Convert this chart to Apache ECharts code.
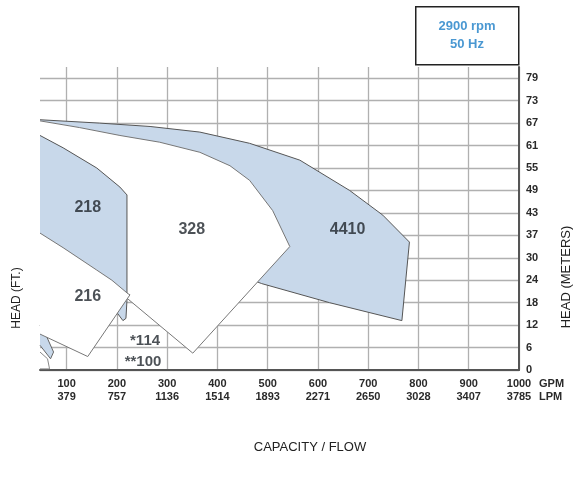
<!DOCTYPE html>
<html><head><meta charset="utf-8">
<script src="https://cdn.jsdelivr.net/npm/echarts@6/dist/echarts.min.js"></script>
<style>html,body{margin:0;padding:0;background:#fff}#c{width:579px;height:486px}</style>
</head><body><div id="c"></div>
<script>
// Axis ticks
const gpmTicks = [100, 200, 300, 400, 500, 600, 700, 800, 900, 1000];
const lpmLabels = ['379', '757', '1136', '1514', '1893', '2271', '2650', '3028', '3407', '3785'];
const feetTicks = [0, 20, 40, 60, 80, 100, 120, 140, 160, 180, 200, 220, 240, 260];
const meterLabels = ['0', '6', '12', '18', '24', '30', '37', '43', '49', '55', '61', '67', '73', '79'];

// Pump curve regions: [GPM, head ft] (start and end on the left edge of the chart)
const curve4410 = [[47,223],[166,220],[266,217],[365,212],[464,202],[564,187],[663,160],[729,138],[782,114],[767,44],[623,60],[488,77],[365,98],[226,120],[166,130],[47,150]];
const curve328 = [[47,222],[126,216],[206,209],[285,203],[365,194],[425,182],[464,169],[510,142],[544,110],[351,15],[220,64],[186,71],[47,98]];
const curve218 = [[47,209],[93,198],[160,180],[206,163],[220,156],[220,62],[218,46],[212,44],[202,50],[166,71],[47,107]];
const curve216 = [[47,122],[93,109],[160,89],[190,80],[222,68],[226,67],[142,12],[47,32]];
const curve114 = [[47,40],[60,30],[74,16],[68,10],[47,22]];
const curve100 = [[47,16],[62,10],[66,1],[47,1]];

// Region labels
const regionLabels = ['218', '216', '328', '4410', '*114', '**100'];
const labelAnchors = [[142,145],[142,65],[349,125],[659,125],[256,26],[252,7]];

const BLUE = '#c8d8ea';
function poly(points, fill, stroke) {
  return {
    type: 'custom', coordinateSystem: 'cartesian2d', silent: true,
    data: points, encode: { x: 0, y: 1 },
    renderItem: function (params, api) {
      if (params.dataIndex !== 0) return;
      const pts = points.map(p => api.coord(p));
      return { type: 'group', children: [
        { type: 'polygon', shape: { points: pts }, style: { fill: fill, stroke: null } },
        { type: 'polyline', shape: { points: pts }, style: { fill: null, stroke: stroke, lineWidth: 1 } }
      ] };
    }
  };
}

const chart = echarts.init(document.getElementById('c'));
chart.setOption({
  animation: false,
  grid: { left: 40, right: 60, top: 67, bottom: 116 },
  xAxis: {
    type: 'value', min: 47, max: 1000,
    axisLine: { show: true, lineStyle: { color: '#555', width: 2 } },
    axisTick: { show: false, customValues: gpmTicks },
    splitLine: { show: true, lineStyle: { color: '#b0b0b0', width: 1.3 } },
    axisLabel: { customValues: gpmTicks, margin: 7, fontSize: 11, fontWeight: 'bold', color: '#2a2a2a',
      fontFamily: 'Liberation Sans', lineHeight: 13,
      formatter: v => v + '\n' + lpmLabels[gpmTicks.indexOf(v)] },
    name: 'GPM\nLPM', nameLocation: 'end', nameGap: 20,
    nameTextStyle: { fontSize: 11, fontWeight: 'bold', color: '#2a2a2a', fontFamily: 'Liberation Sans',
      lineHeight: 13, verticalAlign: 'top', align: 'left', padding: [7, 0, 0, 0] }
  },
  yAxis: {
    type: 'value', position: 'right', min: 0, max: 270,
    axisLine: { show: true, lineStyle: { color: '#555', width: 2 } },
    axisTick: { show: false, customValues: feetTicks },
    splitLine: { show: true, lineStyle: { color: '#b0b0b0', width: 1.3 } },
    axisLabel: { customValues: feetTicks, margin: 7, fontSize: 11, fontWeight: 'bold', color: '#2a2a2a',
      fontFamily: 'Liberation Sans',
      formatter: v => meterLabels[feetTicks.indexOf(v)] }
  },
  series: [
    poly(curve4410, BLUE, '#555'),
    poly(curve328, '#fff', '#777'),
    poly(curve218, BLUE, '#555'),
    poly(curve114, BLUE, '#666'),
    poly(curve216, '#fff', '#777'),
    poly(curve100, '#fff', '#888'),
    {
      type: 'scatter', symbolSize: 0, silent: true,
      data: labelAnchors.map((p, i) => ({ value: p, name: regionLabels[i],
        label: { fontSize: i >= 4 ? 15 : 16 } })),
      label: { show: true, position: 'inside', formatter: p => p.name,
        fontFamily: 'Liberation Sans', fontWeight: 'bold', fontSize: 16, color: '#1f252c' },
      z: 10
    }
  ],
  graphic: [
    { type: 'rect', left: 415, top: 6, shape: { width: 103, height: 58 },
      style: { fill: '#fff', stroke: '#222', lineWidth: 1.5 } },
    { type: 'text', x: 467, y: 26, style: { text: '2900 rpm', fill: '#4a98d2', font: 'bold 13px "Liberation Sans"', align: 'center', verticalAlign: 'middle' } },
    { type: 'text', x: 467, y: 44, style: { text: '50 Hz', fill: '#4a98d2', font: 'bold 13px "Liberation Sans"', align: 'center', verticalAlign: 'middle' } },
    { type: 'text', x: 17, y: 298, rotation: Math.PI / 2, style: { text: 'HEAD (FT.)', fill: '#222', font: '12px "Liberation Sans"', align: 'center', verticalAlign: 'middle' } },
    { type: 'text', x: 566, y: 277, rotation: Math.PI / 2, style: { text: 'HEAD (METERS)', fill: '#222', font: '13px "Liberation Sans"', align: 'center', verticalAlign: 'middle' } },
    { type: 'text', x: 310, y: 447, style: { text: 'CAPACITY / FLOW', fill: '#222', font: '13px "Liberation Sans"', align: 'center', verticalAlign: 'middle' } }
  ]
});
</script></body></html>
